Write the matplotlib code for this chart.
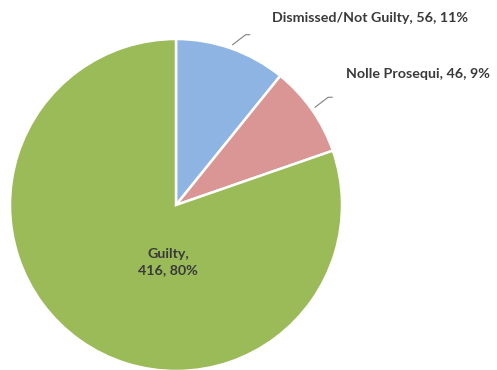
import numpy as np
import matplotlib
matplotlib.use("Agg")
import matplotlib.pyplot as plt

# dados
categorias = ["Dismissed/Not Guilty", "Nolle Prosequi", "Guilty"]
valores = [56, 46, 416]
percentuais = [11, 9, 80]
cores = ["#8DB4E2", "#D99694", "#9BBB59"]

fig = plt.figure(figsize=(4.97, 3.70), dpi=100)
ax = fig.add_axes([0, 0, 1, 1])

cx, cy, r = 176, 165, 166
wedges, _ = ax.pie(valores, colors=cores, startangle=90, counterclock=False,
                   center=(cx, cy), radius=r, frame=True,
                   wedgeprops=dict(edgecolor="white", linewidth=1.8))
ax.set_xlim(0, 497)
ax.set_ylim(0, 370)
ax.set_aspect("equal")
ax.axis("off")

fonte = dict(family=["Lato", "DejaVu Sans"], fontweight="bold", fontsize=10.3, color="#3a3a3a")

# rótulos externos com linha de ligação
posicoes = {0: (370, 352), 1: (418, 296)}
for i, (tx, ty) in posicoes.items():
    w = wedges[i]
    ang = np.deg2rad((w.theta1 + w.theta2) / 2)
    x0 = cx + (r + 4) * np.cos(ang)
    y0 = cy + (r + 4) * np.sin(ang)
    x1 = x0 + 17
    y1 = y0 + 10
    ax.plot([x0, x1 - 4, x1], [y0, y1, y1], color="#808080", lw=0.8)
    ax.text(tx, ty, f"{categorias[i]}, {valores[i]}, {percentuais[i]}%",
            ha="center", va="center", **fonte)

# rótulo interno
ax.text(168, 108, f"{categorias[2]},\n{valores[2]}, {percentuais[2]}%",
        ha="center", va="center", linespacing=1.45, **fonte)

fig.savefig("out.png", dpi=100)
